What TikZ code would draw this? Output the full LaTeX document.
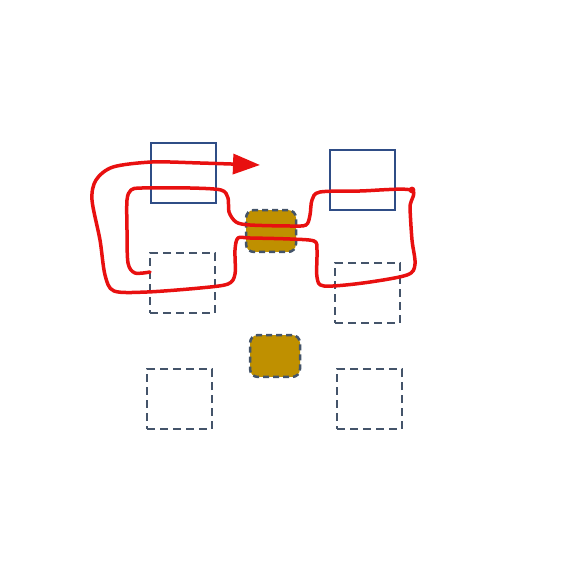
\documentclass[tikz,border=0pt]{standalone}
\usepackage{tikz}
\usetikzlibrary{arrows.meta}
\definecolor{frameblue}{HTML}{2F4D86}
\definecolor{dashgray}{HTML}{44546A}
\definecolor{gold}{HTML}{BF9000}
\definecolor{scribble}{HTML}{E81010}
\begin{document}
\begin{tikzpicture}[x=0.02cm, y=-0.02cm,
  every node/.style={outer sep=0pt, inner sep=0pt},
  solidbox/.style={draw=frameblue, line width=0.055cm, minimum width=1.3cm, minimum height=1.2cm},
  ghostbox/.style={draw=dashgray, line width=0.045cm, dash pattern=on 0.16cm off 0.1cm, minimum width=1.3cm, minimum height=1.2cm},
  goldbox/.style={draw=dashgray, fill=gold, line width=0.05cm, dash pattern=on 0.12cm off 0.08cm, rounded corners=0.16cm, minimum width=1.0cm, minimum height=0.84cm}]
\useasboundingbox (0,0) rectangle (576,587);

\node[solidbox] (topleft) at (183.5,173) {};
\node[solidbox] (topright) at (362.5,180) {};

\node[goldbox] (goldtop) at (271,231) {};
\node[goldbox] (goldbottom) at (275,356) {};

\node[ghostbox] (midleft) at (182.5,283) {};
\node[ghostbox] (midright) at (367.5,293) {};
\node[ghostbox] (lowleft) at (179.5,399) {};
\node[ghostbox] (lowright) at (369.5,399) {};

\draw[scribble, line width=0.07cm, line cap=round, line join=round, -{Triangle[length=0.54cm, width=0.4cm]}]
  plot[smooth, tension=0.5] coordinates {
  (150,272) (135,273) (128,263) (127,230) (127,200) (131,190) (142,188) (190,188)
  (221,190) (228,198) (229,212) (236,222) (250,225) (290,226) (306,225) (310,215)
  (312,200) (320,192) (360,191) (411,190) (410,207) (412,240) (415,264) (407,275)
  (363,283) (324,286) (317,277) (317,250) (314,241) (290,239) (250,238) (238,238)
  (235,250) (235,274) (228,284) (200,288) (147,292) (114,291) (105,275) (100,240)
  (92,200) (96,180) (113,167) (152,162) (200,163) (260,165)};
\fill[scribble] (412,190) circle (3.4);
\end{tikzpicture}
\end{document}
